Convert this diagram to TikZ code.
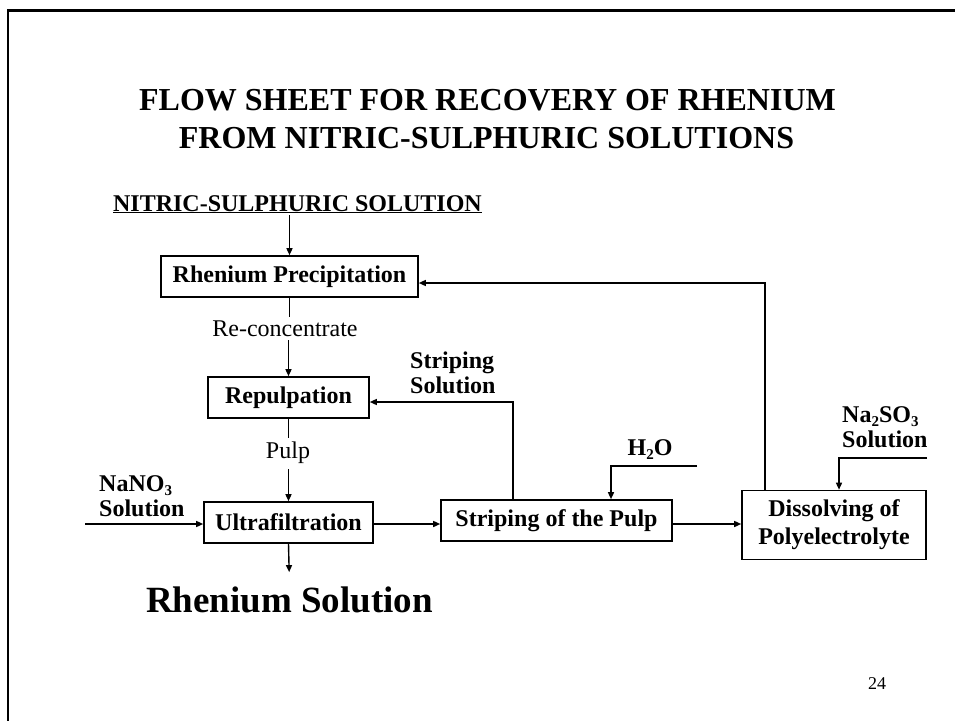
\documentclass[tikz,border=0pt]{standalone}
\usepackage{fontspec}
\setmainfont{Liberation Serif}
\usetikzlibrary{arrows.meta}
\newcommand\lowsub[1]{\raisebox{-4pt}[\height][0pt]{\fontsize{15}{15}\selectfont #1}}
\begin{document}
\begin{tikzpicture}[x=1pt,y=-1pt,
  box/.style={draw, line width=1.6pt, inner sep=0pt, align=center,
    font=\fontsize{24}{28}\selectfont\bfseries},
  lbl/.style={inner sep=0pt, align=left, font=\fontsize{24}{25}\selectfont\bfseries},
  plainlbl/.style={inner sep=0pt, font=\fontsize{24}{26}\selectfont},
  conn/.style={line width=1.4pt},
  arr/.style={line width=1.4pt, -{Triangle[length=7pt,width=6pt]}},
]
\useasboundingbox (0,0) rectangle (955,720);
\fill[white] (0,0) rectangle (955,720);
\draw[line width=2.4pt] (8,730) -- (8,10.5) -- (965,10.5);

% title
\node[inner sep=0pt, anchor=base, font=\fontsize{32}{38}\selectfont\bfseries] (title1) at (487.5,110) {FLOW SHEET FOR RECOVERY OF RHENIUM};
\node[inner sep=0pt, anchor=base, font=\fontsize{32}{38}\selectfont\bfseries] (title2) at (486.5,148) {FROM NITRIC-SULPHURIC SOLUTIONS};

% source
\node[inner sep=0pt, anchor=base, font=\fontsize{24}{26}\selectfont\bfseries] (nitric) at (297.5,211) {\underline{NITRIC-SULPHURIC SOLUTION}};

% boxes
\node[box, minimum width=257pt, minimum height=41pt] (prec) at (289.5,276.5) {Rhenium Precipitation};
\node[box, minimum width=161pt, minimum height=41pt] (rep) at (288.5,397.5) {Repulpation};
\node[box, minimum width=169pt, minimum height=41pt] (ultra) at (288.5,522.5) {Ultrafiltration};
\node[box, minimum width=231pt, minimum height=41pt] (strip) at (556.5,520.5) {Striping of the Pulp};
\node[box, minimum width=184pt, minimum height=69pt] (diss) at (834,525) {Dissolving of\\Polyelectrolyte};

% plain labels
\node[plainlbl, anchor=base] (reconc) at (285,336) {Re-concentrate};
\node[plainlbl, anchor=base] (pulp) at (288,458) {Pulp};

% bold labels
\node[lbl, anchor=north west] (stripsol) at (410,352) {Striping\\Solution};
\node[lbl, anchor=north west] (nano) at (99,475) {NaNO\lowsub{3}\\Solution};
\node[lbl, anchor=north west] (naso) at (842,406) {Na\lowsub{2}SO\lowsub{3}\\Solution};
\node[inner sep=0pt, anchor=base, font=\fontsize{24}{26}\selectfont\bfseries] (water) at (650,455) {H\lowsub{2}O};

% product
\node[inner sep=0pt, anchor=base, font=\fontsize{37}{40}\selectfont\bfseries] (rhsol) at (289.5,612) {Rhenium Solution};

% page number
\node[inner sep=0pt, anchor=base, font=\fontsize{18}{20}\selectfont] (pgnum) at (877,689) {24};

% coordinates for free ends and bends
\coordinate (nain) at (85,524);
\coordinate (sA) at (513,402);
\coordinate (hA) at (697,466);
\coordinate (hB) at (611,466);
\coordinate (rA) at (765,283);
\coordinate (nA) at (927,458);
\coordinate (nB) at (839,458);

% connectors
\draw[arr, shorten <=2pt] (nitric.south -| prec.north) -- (prec.north);
\draw[conn] (prec.south) -- ([yshift=3pt]prec.south |- reconc.north);
\draw[arr] ([yshift=-4pt]reconc.south -| rep.north) -- (rep.north);
\draw[conn] (rep.south) -- ([yshift=3pt]rep.south |- pulp.north);
\draw[arr] ([yshift=-6pt]pulp.south -| ultra.north) -- (ultra.north);
\draw[arr, shorten >=14pt] (ultra.south) -- (rhsol.north);
\draw[arr] (nain) -- (nain -| ultra.west);
\draw[arr] (ultra.east |- nain) -- (strip.west |- nain);
\draw[arr] (strip.east |- nain) -- (diss.west |- nain);
\draw[arr] (strip.north -| sA) -- (sA) -- (sA -| rep.east);
\draw[arr] (hA) -- (hB) -- (hB |- strip.north);
\draw[arr] (diss.north -| rA) -- (rA) -- (rA -| prec.east);
\draw[arr] (nA) -- (nB) -- (nB |- diss.north);
\end{tikzpicture}
\end{document}
